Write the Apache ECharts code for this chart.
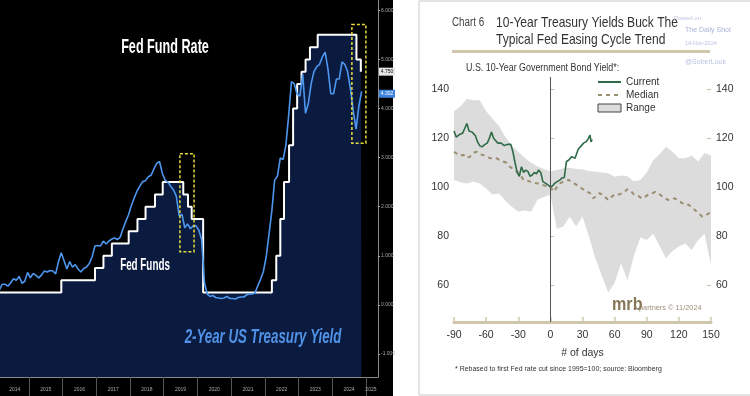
<!DOCTYPE html>
<html>
<head>
<meta charset="UTF-8">
<title>Fed Fund Rate / 10-Year Treasury Yields</title>
<style type="text/css">
html, body {
	margin: 0;
	padding: 0;
	background: #fff;
}
#main {
	width: 750px;
	height: 396px;
}
</style>
</head>
<body>
	<div id="main"></div>
</body>
<script type="text/javascript" src="https://cdn.jsdelivr.net/npm/echarts@6/dist/echarts.min.js"></script>
<script type="text/javascript">
	// ---- left panel: Fed funds (upper bound) and 2-year yield ----
	var ffDates = [ 2014.14, 2015.96, 2016.96, 2017.21, 2017.46, 2017.96, 2018.22, 2018.46, 2018.74, 2018.97,
		2019.58, 2019.72, 2019.83, 2020.17, 2022.21, 2022.34, 2022.46, 2022.57, 2022.72, 2022.84,
		2022.96, 2023.09, 2023.21, 2023.34, 2023.57, 2024.72, 2024.85, 2024.87 ];
	var ffLevels = [ 0.25, 0.5, 0.75, 1.0, 1.25, 1.5, 1.75, 2.0, 2.25, 2.5,
		2.25, 2.0, 1.75, 0.25, 0.5, 1.0, 1.75, 2.5, 3.25, 4.0,
		4.5, 4.75, 5.0, 5.25, 5.5, 5.0, 4.75, 4.75 ];

	// monthly 2-year yield, Jan 2014 .. Nov 2024
	var y2StartYear = 2014;
	var y2Yields = [
		0.33, 0.31, 0.42, 0.42, 0.38, 0.45, 0.53, 0.50, 0.58, 0.44, 0.48, 0.66,
		0.55, 0.64, 0.60, 0.55, 0.61, 0.69, 0.67, 0.70, 0.69, 0.63, 0.88, 1.06,
		0.90, 0.73, 0.88, 0.77, 0.82, 0.73, 0.67, 0.74, 0.77, 0.84, 0.98, 1.20,
		1.21, 1.20, 1.30, 1.24, 1.30, 1.34, 1.36, 1.33, 1.38, 1.55, 1.70, 1.84,
		2.03, 2.18, 2.32, 2.42, 2.51, 2.53, 2.61, 2.64, 2.77, 2.88, 2.92, 2.68,
		2.54, 2.50, 2.41, 2.34, 2.21, 1.81, 1.84, 1.57, 1.65, 1.55, 1.61, 1.61,
		1.52, 1.33, 0.45, 0.22, 0.17, 0.19, 0.15, 0.14, 0.13, 0.14, 0.17, 0.13,
		0.13, 0.12, 0.15, 0.16, 0.16, 0.20, 0.22, 0.22, 0.24, 0.39, 0.52, 0.68,
		0.98, 1.44, 1.91, 2.54, 2.62, 2.99, 2.96, 3.25, 3.86, 4.55, 4.50, 4.29,
		4.25, 4.70, 3.90, 4.10, 4.50, 4.75, 4.85, 4.90, 5.05, 5.15, 4.80, 4.30,
		4.30, 4.60, 4.60, 4.95, 4.90, 4.75, 4.40, 3.95, 3.58, 4.05, 4.35 ];

	// dashed highlight boxes (the two easing windows)
	var boxStart = [ 2019.48, 2024.585 ];
	var boxEnd = [ 2019.9, 2025.0 ];
	var boxTop = [ 3.08, 5.71 ];
	var boxBottom = [ 1.08, 3.29 ];

	var leftYTicks = [ -1, 0, 1, 2, 3, 4, 5, 6 ];
	var leftYearTicks = [ 2015, 2016, 2017, 2018, 2019, 2020, 2021, 2022, 2023, 2024, 2025 ];
	var leftYearLabels = [ 2014.58, 2015.5, 2016.5, 2017.5, 2018.5, 2019.5, 2020.5, 2021.5, 2022.5, 2023.5, 2024.5, 2025.15 ];

	// ---- right panel: 10-year yield around first Fed cut ----
	var rangeDays = [ -90, -84, -78, -72, -66, -60, -54, -48, -42, -36, -30, -24, -18, -12, -6, 0,
		6, 12, 18, 24, 30, 36, 42, 48, 54, 60, 66, 72, 78, 84, 90, 96, 102, 108, 114, 120,
		126, 132, 138, 144, 150 ];
	var rangeHigh = [ 131, 133, 136, 135.5, 135.5, 131, 128, 125, 120.5, 117, 114.5, 112, 110, 108.5, 107.5, 106.4,
		107, 107.8, 108, 107.5, 107.3, 106.5, 106.4, 106, 105.7, 104.3, 104.8, 104.5, 102.5, 103, 106, 111, 113.5, 116.5, 114.5, 111.8,
		111.8, 113, 110.5, 114, 113 ];
	var rangeLow = [ 103, 102, 101.5, 102.3, 101.5, 99.5, 97, 97.5, 94.5, 92, 90, 90.5, 90, 95, 96, 97,
		83, 84, 88, 84, 88, 80, 71, 64, 57, 61, 69, 62, 72, 79.5, 78.5, 81, 76, 71, 74, 75.8,
		77, 74.4, 78.5, 81, 68 ];

	var medianDays = [ -90, -85, -81, -78, -75, -72, -69, -66, -63, -60, -56, -53, -50, -47, -44, -41, -38, -35, -31, -28,
		-25, -22, -19, -16, -13, -10, -7, -4, 0, 3, 6, 9, 13, 17, 20, 23, 26, 29, 33, 37,
		40, 43, 46, 50, 54, 57, 60, 64, 67, 70, 72, 75, 78, 82, 85, 88, 92, 95, 98, 101,
		104, 107, 110, 113, 116, 120, 123, 126, 129, 132, 135, 138, 142, 145, 148, 150 ];
	var medianValues = [ 114.5, 113, 113.2, 112, 112.5, 114, 114.5, 113.5, 113.2, 112.5, 111.8, 112, 111.8, 111, 110.5, 110, 108.4, 107.5, 106.4, 105,
		103, 102.8, 102.3, 102, 101.6, 101.5, 100.9, 100.5, 100.2, 98.2, 100, 101.6, 102.5, 103, 102, 101.4, 100.5, 99.6, 98.5, 97.6,
		95.5, 96.5, 97.6, 96.5, 94.8, 96, 97.1, 97, 97.6, 98.5, 99.2, 98.5, 97.1, 96.5, 95.5, 96, 97.1, 97.5, 98.1, 97.5,
		96.4, 95.5, 94.8, 95, 95.5, 94.5, 93.5, 93.5, 92.8, 92, 90.7, 89.5, 88, 88.5, 89.4, 89 ];

	var currentDays = [ -90, -88, -85, -82, -80, -78, -76, -73, -70, -68, -66, -64, -61, -59, -57, -55, -53, -51, -49, -46,
		-43, -40, -37, -35, -33, -31, -29, -27, -25, -23, -21, -19, -17, -15, -13, -11, -9, -7, -4, -2,
		0, 2, 4, 7, 9, 11, 13, 15, 17, 20, 23, 26, 29, 31, 33, 35, 37, 38, 39 ];
	var currentValues = [ 123, 120.5, 121.5, 122, 124, 126, 123, 122.5, 121, 118.5, 117, 116.5, 117.5, 118, 120, 122.5, 120, 119, 118, 118,
		117, 117.5, 117.5, 114.5, 110, 106, 104.5, 108.4, 106, 107, 106.5, 104.5, 105, 106, 105.5, 107, 106, 102.3, 101.5, 100.9,
		100.2, 100.5, 101.6, 102.5, 103, 103.8, 104, 110.5, 111, 112.5, 111.8, 115.5, 117, 118, 118.5, 119.5, 121.3, 118.5, 119.5 ];

	var rightYTicks = [ 60, 80, 100, 120, 140 ];

	function pairs(xs, ys) {
		var out = [];
		for (var i = 0; i < xs.length; i++) {
			out.push([ xs[i], ys[i] ]);
		}
		return out;
	}

	var y2Data = [];
	for (var i = 0; i < y2Yields.length; i++) {
		y2Data.push([ y2StartYear + (i + 0.5) / 12, y2Yields[i] ]);
	}

	var boxData = [];
	for (var b = 0; b < boxStart.length; b++) {
		boxData.push([ boxStart[b], boxTop[b], boxEnd[b], boxBottom[b] ]);
	}

	var sans = '"Liberation Sans", Arial, sans-serif';

	// text helper for the annotations (narrowed, the originals use a condensed face)
	function label(txt, x, y, font, fill, sx, sy, align) {
		return {
			type : 'text', z : 100, x : x, y : y,
			scaleX : sx || 1, scaleY : sy || 1,
			style : {
				text : txt, fill : fill, font : font + ' ' + sans,
				textAlign : align || 'left', textVerticalAlign : 'middle'
			}
		};
	}

	var chart = echarts.init(document.getElementById('main'));

	var option = {
		backgroundColor : '#ffffff',
		animation : false,
		grid : [ {
			left : 0,
			top : 0,
			width : 378,
			height : 377
		}, {
			left : 454,
			top : 77,
			width : 257,
			height : 245
		} ],
		xAxis : [ {
			gridIndex : 0,
			type : 'value',
			min : 2014.14,
			max : 2025.36,
			axisLine : {
				onZero : false,
				lineStyle : { color : '#8a8a8a', width : 1 }
			},
			axisTick : {
				customValues : leftYearTicks,
				length : 19,
				lineStyle : { color : '#555' }
			},
			axisLabel : {
				customValues : leftYearLabels,
				formatter : function(v) {
					return String(Math.floor(v));
				},
				fontSize : 5,
				color : '#aaa',
				margin : 10
			},
			splitLine : { show : false }
		}, {
			gridIndex : 1,
			type : 'value',
			min : -90,
			max : 150,
			interval : 30,
			axisLine : {
				onZero : false,
				lineStyle : { color : '#cfc6ac', width : 3 }
			},
			axisTick : {
				inside : true,
				length : 5,
				lineStyle : { color : '#cfc6ac', width : 1.5 }
			},
			axisLabel : {
				fontSize : 10.5,
				fontFamily : sans,
				color : '#333',
				margin : 8
			},
			splitLine : { show : false },
			name : '# of days',
			nameLocation : 'middle',
			nameGap : 26,
			nameTextStyle : {
				fontSize : 10.5,
				fontFamily : sans,
				color : '#333'
			}
		} ],
		yAxis : [ {
			gridIndex : 0,
			type : 'value',
			position : 'right',
			min : -1.47,
			max : 6.21,
			axisLine : {
				show : true,
				onZero : false,
				lineStyle : { color : '#8a8a8a' }
			},
			axisTick : {
				show : true,
				customValues : leftYTicks,
				length : 2,
				lineStyle : { color : '#aaa' }
			},
			axisLabel : {
				customValues : leftYTicks,
				formatter : function(v) {
					return v.toFixed(3);
				},
				fontSize : 5,
				color : '#aaa',
				margin : 3
			},
			splitLine : { show : false }
		}, {
			gridIndex : 1,
			type : 'value',
			position : 'left',
			min : 45,
			max : 145,
			axisLine : { show : false },
			axisTick : {
				show : true,
				inside : true,
				length : 4,
				customValues : rightYTicks,
				lineStyle : { color : '#c9c0a6' }
			},
			axisLabel : {
				customValues : rightYTicks,
				fontSize : 10.5,
				fontFamily : sans,
				color : '#333',
				margin : 5
			},
			splitLine : { show : false }
		}, {
			gridIndex : 1,
			type : 'value',
			position : 'right',
			min : 45,
			max : 145,
			axisLine : { show : false },
			axisTick : {
				show : true,
				inside : true,
				length : 4,
				customValues : rightYTicks,
				lineStyle : { color : '#c9c0a6' }
			},
			axisLabel : {
				customValues : rightYTicks,
				fontSize : 10.5,
				fontFamily : sans,
				color : '#333',
				margin : 5
			},
			splitLine : { show : false }
		} ],
		legend : {
			orient : 'vertical',
			left : 592,
			top : 72,
			itemWidth : 23,
			itemHeight : 8,
			itemGap : 3,
			textStyle : {
				fontSize : 10,
				fontFamily : sans,
				color : '#333'
			},
			data : [ {
				name : 'Current',
				itemStyle : { opacity : 0 }
			}, {
				name : 'Median',
				itemStyle : { opacity : 0 }
			}, {
				name : 'Range',
				icon : 'rect',
				itemStyle : {
					color : '#dcdcdc',
					borderColor : '#444',
					borderWidth : 1
				}
			} ]
		},
		series : [ {
			name : 'Fed Funds',
			type : 'line',
			xAxisIndex : 0,
			yAxisIndex : 0,
			step : 'end',
			symbol : 'none',
			data : pairs(ffDates, ffLevels),
			lineStyle : { color : '#ffffff', width : 2 },
			itemStyle : { color : '#ffffff' },
			areaStyle : { color : '#0b1b40', opacity : 1, origin : 'start' },
			z : 2,
			markPoint : {
				silent : true,
				symbol : 'rect',
				symbolSize : [ 16, 8 ],
				symbolOffset : [ 9, 0 ],
				itemStyle : { color : '#e6e6e6' },
				label : {
					show : true,
					position : 'inside',
					formatter : '4.750',
					fontSize : 5,
					color : '#111'
				},
				data : [ { coord : [ 2025.36, 4.75 ] } ]
			}
		}, {
			name : '2-Year US Treasury Yield',
			type : 'line',
			xAxisIndex : 0,
			yAxisIndex : 0,
			symbol : 'none',
			data : y2Data,
			lineStyle : { color : '#4d96ee', width : 1.6 },
			itemStyle : { color : '#4d96ee' },
			z : 3,
			markPoint : {
				silent : true,
				symbol : 'rect',
				symbolSize : [ 16, 8 ],
				symbolOffset : [ 9, 0 ],
				itemStyle : { color : '#3f82dc' },
				label : {
					show : true,
					position : 'inside',
					formatter : '4.302',
					fontSize : 5,
					color : '#fff'
				},
				data : [ { coord : [ 2025.36, 4.3 ] } ]
			}
		}, {
			name : 'Easing windows',
			type : 'custom',
			xAxisIndex : 0,
			yAxisIndex : 0,
			data : boxData,
			encode : { x : [ 0, 2 ], y : [ 1, 3 ] },
			renderItem : function(params, api) {
				var p0 = api.coord([ api.value(0), api.value(1) ]);
				var p1 = api.coord([ api.value(2), api.value(3) ]);
				return {
					type : 'rect',
					shape : { x : p0[0], y : p0[1], width : p1[0] - p0[0], height : p1[1] - p0[1] },
					style : { fill : 'none', stroke : '#e8dc3c', lineWidth : 1.5, lineDash : [ 3, 2 ] }
				};
			},
			z : 5
		}, {
			name : 'Range',
			type : 'custom',
			xAxisIndex : 1,
			yAxisIndex : 1,
			itemStyle : { color : '#dcdcdc' },
			data : [ [ 0, 100 ] ],
			renderItem : function(params, api) {
				if (params.dataIndex !== 0) {
					return null;
				}
				var pts = [];
				for (var i = 0; i < rangeDays.length; i++) {
					pts.push(api.coord([ rangeDays[i], rangeHigh[i] ]));
				}
				for (var j = rangeDays.length - 1; j >= 0; j--) {
					pts.push(api.coord([ rangeDays[j], rangeLow[j] ]));
				}
				return {
					type : 'polygon',
					shape : { points : pts },
					style : { fill : '#dcdcdc' }
				};
			},
			z : 1
		}, {
			name : 'Median',
			type : 'line',
			xAxisIndex : 1,
			yAxisIndex : 1,
			symbol : 'none',
			data : pairs(medianDays, medianValues),
			lineStyle : { color : '#9a8e70', width : 2, type : [ 4, 4 ] },
			itemStyle : { color : '#9a8e70' },
			z : 3,
			markLine : {
				silent : true,
				symbol : 'none',
				label : { show : false },
				lineStyle : { color : '#555', width : 1, type : 'solid' },
				data : [ { xAxis : 0 } ]
			}
		}, {
			name : 'Current',
			type : 'line',
			xAxisIndex : 1,
			yAxisIndex : 1,
			symbol : 'none',
			data : pairs(currentDays, currentValues),
			lineStyle : { color : '#2f6a46', width : 1.6 },
			itemStyle : { color : '#2f6a46' },
			z : 4
		} ],
		graphic : [
			// panel backgrounds
			{ type : 'rect', z : -10, shape : { x : 0, y : 0, width : 393, height : 396 }, style : { fill : '#000' } },
			{ type : 'rect', z : -10, shape : { x : 419, y : 1, width : 340, height : 394 }, style : { fill : '#fff', stroke : '#c8c8c8', lineWidth : 1 } },
			{ type : 'rect', z : -5, shape : { x : 452, y : 50, width : 258, height : 3 }, style : { fill : '#cfc6ad' } },
			// left panel texts
			label('Fed Fund Rate', 165, 47, 'bold 15.5px', '#fff', 0.815, 1.3, 'center'),
			label('Fed Funds', 145, 266, 'bold 12px', '#fff', 0.82, 1.35, 'center'),
			label('2-Year US Treasury Yield', 263, 337, 'italic bold 16px', '#4f92e6', 0.83, 1.25, 'center'),
			// right panel texts
			label('Chart 6', 452, 23, '12px', '#444', 0.82),
			label('10-Year Treasury Yields Buck The', 496, 23, '14.5px', '#333', 0.83),
			label('Typical Fed Easing Cycle Trend', 496, 40, '14.5px', '#333', 0.83),
			label('Posted on', 674, 18, '6px', '#bcc3e0'),
			label('The Daily Shot', 685, 30, '7px', '#aab3da'),
			label('14-Nov-2024', 685, 43, '5.5px', '#bcc3e0'),
			label('@SoberLook', 685, 62, '7px', '#bcc3e0'),
			label('U.S. 10-Year Government Bond Yield*:', 466, 68, '10px', '#333', 0.89),
			label('mrb', 612, 305, 'bold 17px', '#857757', 0.95, 1.1),
			label('partners \u00a9 11/2024', 639, 308, '8px', '#9b917a', 0.92),
			label('* Rebased to first Fed rate cut since 1995=100; source: Bloomberg', 455, 369, '7.6px', '#333', 0.92)
		]
	};

	chart.setOption(option);
</script>
</html>
